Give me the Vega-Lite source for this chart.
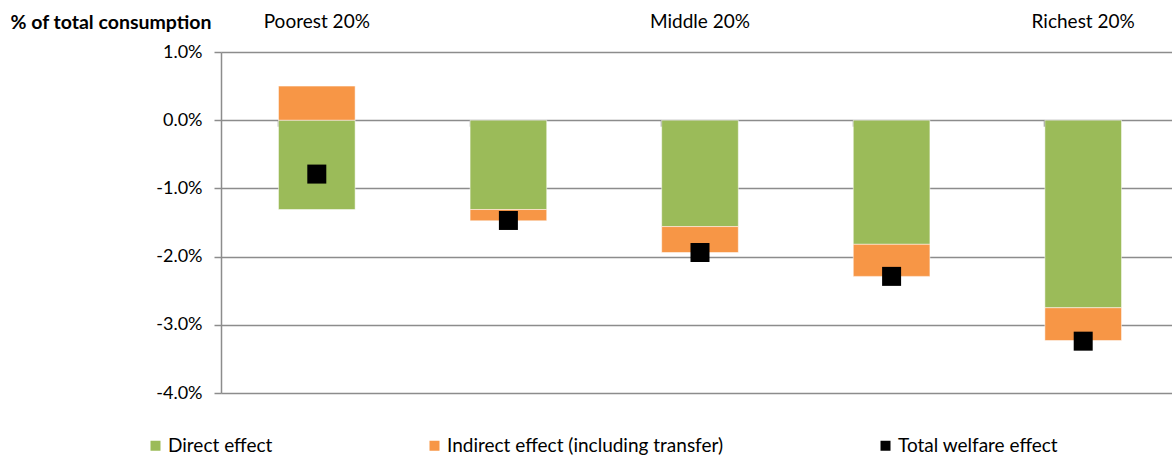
{
  "$schema": "https://vega.github.io/schema/vega-lite/v6.json",
  "width": 951,
  "height": 341,
  "autosize": "none",
  "padding": {"left": 221, "top": 52, "right": 0, "bottom": 63},
  "config": {
    "view": {"stroke": null},
    "font": "Lato",
    "axis": {"labelFont": "Lato", "titleFont": "Lato"},
    "legend": {"labelFont": "Lato"}
  },
  "data": {
    "values": [
      {"quintile": "Poorest 20%", "series": "Direct effect", "value": -1.31},
      {"quintile": "Poorest 20%", "series": "Indirect effect (including transfer)", "value": 0.5},
      {"quintile": "Poorest 20%", "series": "Total welfare effect", "value": -0.79},
      {"quintile": "Second 20%", "series": "Direct effect", "value": -1.31},
      {"quintile": "Second 20%", "series": "Indirect effect (including transfer)", "value": -0.165},
      {"quintile": "Second 20%", "series": "Total welfare effect", "value": -1.47},
      {"quintile": "Middle 20%", "series": "Direct effect", "value": -1.56},
      {"quintile": "Middle 20%", "series": "Indirect effect (including transfer)", "value": -0.38},
      {"quintile": "Middle 20%", "series": "Total welfare effect", "value": -1.94},
      {"quintile": "Fourth 20%", "series": "Direct effect", "value": -1.82},
      {"quintile": "Fourth 20%", "series": "Indirect effect (including transfer)", "value": -0.47},
      {"quintile": "Fourth 20%", "series": "Total welfare effect", "value": -2.29},
      {"quintile": "Richest 20%", "series": "Direct effect", "value": -2.75},
      {"quintile": "Richest 20%", "series": "Indirect effect (including transfer)", "value": -0.48},
      {"quintile": "Richest 20%", "series": "Total welfare effect", "value": -3.24}
    ]
  },
  "resolve": {"axis": {"x": "independent"}},
  "layer": [
    {
      "transform": [{"filter": "datum.series !== 'Total welfare effect'"}],
      "mark": {"type": "bar", "stroke": "#ffffff", "strokeOpacity": 0.5, "strokeWidth": 1},
      "encoding": {
        "x": {
          "field": "quintile",
          "type": "nominal",
          "sort": ["Poorest 20%", "Second 20%", "Middle 20%", "Fourth 20%", "Richest 20%"],
          "scale": {"range": [0, 958], "paddingInner": 0.6, "paddingOuter": 0.3},
          "axis": {
            "orient": "top",
            "title": null,
            "domain": false,
            "ticks": false,
            "grid": false,
            "labelAngle": 0,
            "labelPadding": 21,
            "labelFontSize": 19,
            "labelColor": "#000000",
            "labelExpr": "(datum.label === 'Second 20%' || datum.label === 'Fourth 20%') ? '' : datum.label"
          }
        },
        "y": {
          "field": "value",
          "type": "quantitative",
          "stack": "zero",
          "scale": {"domain": [-4, 1], "nice": false, "zero": false},
          "axis": {
            "values": [-4, -3, -2, -1, 0, 1],
            "labelExpr": "replace(format(datum.value, '.1f'), '\u2212', '-') + '%'",
            "labelFontSize": 18,
            "labelColor": "#000000",
            "labelPadding": 12,
            "tickSize": 7,
            "tickColor": "#8c8c8c",
            "tickWidth": 1.5,
            "domainColor": "#8c8c8c",
            "domainWidth": 1.5,
            "grid": true,
            "gridColor": "#8c8c8c",
            "gridWidth": 1.5,
            "title": "% of total consumption",
            "titleAngle": 0,
            "titleAlign": "left",
            "titleBaseline": "middle",
            "titleX": -211,
            "titleY": -30,
            "titleFontSize": 19.5,
            "titleFontWeight": "bold",
            "titleColor": "#000000"
          }
        },
        "order": {"field": "series", "sort": "ascending"},
        "color": {
          "field": "series",
          "type": "nominal",
          "scale": {
            "domain": ["Direct effect", "Indirect effect (including transfer)", "Total welfare effect"],
            "range": ["#9BBB59", "#F79646", "#000000"]
          },
          "legend": {
            "title": null,
            "orient": "none",
            "direction": "horizontal",
            "columns": 3,
            "columnPadding": 152,
            "legendX": -75,
            "legendY": 384,
            "symbolType": "square",
            "symbolSize": 100,
            "symbolStrokeWidth": 0,
            "labelFontSize": 19,
            "labelLimit": 500,
            "labelColor": "#000000",
            "labelOffset": 3
          }
        }
      }
    },
    {
      "transform": [{"filter": "datum.series === 'Total welfare effect'"}],
      "mark": {"type": "point", "shape": "square", "filled": true, "size": 361, "opacity": 1},
      "encoding": {
        "x": {
          "field": "quintile",
          "type": "nominal",
          "sort": ["Poorest 20%", "Second 20%", "Middle 20%", "Fourth 20%", "Richest 20%"],
          "axis": {
            "orient": "bottom",
            "offset": -272.8,
            "title": null,
            "labels": false,
            "domain": false,
            "grid": false,
            "ticks": true,
            "tickSize": 6,
            "tickColor": "#8c8c8c",
            "tickWidth": 1.5,
            "bandPosition": 0
          }
        },
        "y": {"field": "value", "type": "quantitative"},
        "color": {"field": "series", "type": "nominal"}
      }
    }
  ]
}
